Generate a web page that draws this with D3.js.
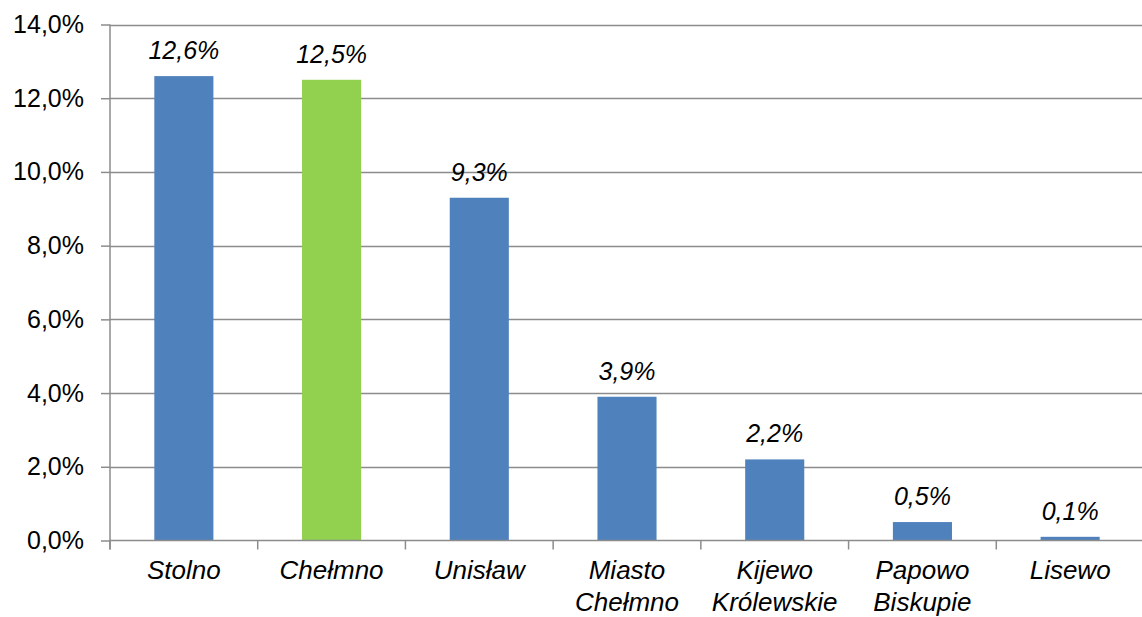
<!DOCTYPE html>
<html><head><meta charset="utf-8">
<script src="https://cdn.jsdelivr.net/npm/d3@7"></script>
<style>body{margin:0;background:#fff}svg{display:block}</style>
</head><body>
<svg id="c" width="1142" height="617"></svg>
<script>
const categories = [["Stolno"],["Chełmno"],["Unisław"],["Miasto","Chełmno"],["Kijewo","Królewskie"],["Papowo","Biskupie"],["Lisewo"]];
const values = [12.6, 12.5, 9.3, 3.9, 2.2, 0.5, 0.1];
const highlight = [false, true, false, false, false, false, false];
const yTicks = [0, 2, 4, 6, 8, 10, 12, 14];

(function () {
const svg = d3.select("#c");
const pLeft = 110, pRight = 1144, pTop = 24.5, pBottom = 540.5;
const font = "'Liberation Sans', Arial, sans-serif";

const x = d3.scaleBand().domain(d3.range(categories.length)).range([pLeft, pRight]).paddingInner(0.6).paddingOuter(0.3);
const y = d3.scaleLinear().domain([0, 14]).range([pBottom, pTop]);
const fmt = v => v.toFixed(1).replace(".", ",") + "%";

// gridlines
svg.append("g").selectAll("line").data(yTicks.filter(d => d > 0)).join("line")
  .attr("x1", pLeft).attr("x2", 1142)
  .attr("y1", d => Math.round(y(d)) + 0.5).attr("y2", d => Math.round(y(d)) + 0.5)
  .attr("stroke", "#8c8c8c").attr("stroke-width", 1.5);

// y axis
const ya = svg.append("g").attr("transform", `translate(${pLeft},0)`)
  .call(d3.axisLeft(y).tickValues(yTicks).tickFormat(fmt).tickSize(9).tickPadding(17));
ya.select(".domain").remove();
ya.selectAll("line").attr("stroke", "#8c8c8c").attr("stroke-width", 1.5);
ya.selectAll("text").attr("font-family", font).attr("font-size", 25).attr("fill", "#000");
svg.append("line").attr("x1", pLeft).attr("x2", pLeft).attr("y1", pTop).attr("y2", pBottom + 9)
  .attr("stroke", "#8c8c8c").attr("stroke-width", 1.5);

// bars
svg.append("g").selectAll("rect").data(values).join("rect")
  .attr("x", (d, i) => x(i)).attr("width", x.bandwidth())
  .attr("y", d => y(d)).attr("height", d => y(0) - y(d))
  .attr("fill", (d, i) => highlight[i] ? "#92D050" : "#4F81BD");

// x axis
const step = x.step();
const bx = d3.scaleLinear().domain([0, categories.length]).range([pLeft, pLeft + step * categories.length]);
svg.append("line").attr("x1", pLeft).attr("x2", 1142).attr("y1", pBottom).attr("y2", pBottom)
  .attr("stroke", "#8c8c8c").attr("stroke-width", 1.5);
svg.append("g").selectAll("line").data(d3.range(categories.length + 1)).join("line")
  .attr("x1", d => bx(d)).attr("x2", d => bx(d)).attr("y1", pBottom).attr("y2", pBottom + 9)
  .attr("stroke", "#8c8c8c").attr("stroke-width", 1.5);

// data labels
svg.append("g").selectAll("text").data(values).join("text")
  .attr("x", (d, i) => x(i) + x.bandwidth() / 2).attr("y", d => y(d) - 17)
  .attr("text-anchor", "middle").attr("font-family", font).attr("font-size", 25)
  .attr("font-style", "italic").attr("fill", "#000").text(fmt);

// category labels
const cl = svg.append("g").selectAll("text").data(categories).join("text")
  .attr("x", (d, i) => x(i) + x.bandwidth() / 2).attr("y", 579)
  .attr("text-anchor", "middle").attr("font-family", font).attr("font-size", 26)
  .attr("font-style", "italic").attr("fill", "#000");
cl.selectAll("tspan").data(d => d).join("tspan")
  .attr("x", function() { return this.parentNode.getAttribute("x"); })
  .attr("dy", (d, i) => i === 0 ? 0 : 31.5).text(d => d);
})();
</script>
</body></html>
